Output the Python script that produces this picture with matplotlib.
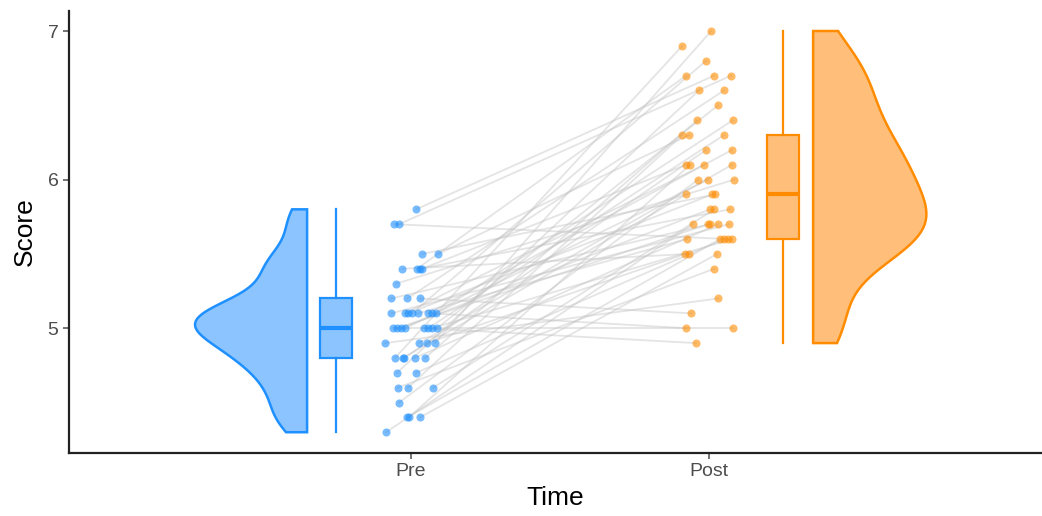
import numpy as np
import matplotlib.pyplot as plt

# paired scores, one row per subject (Pre -> Post)
pre_score = [4.3, 4.4, 4.4, 4.4, 4.5, 4.6, 4.6, 4.6, 4.7, 4.7,
             4.8, 4.8, 4.8, 4.8, 4.8, 4.9, 4.9, 4.9, 4.9, 5.0,
             5.0, 5.0, 5.0, 5.0, 5.0, 5.0, 5.0, 5.1, 5.1, 5.1,
             5.1, 5.1, 5.1, 5.1, 5.1, 5.2, 5.2, 5.2, 5.3, 5.4,
             5.4, 5.4, 5.4, 5.5, 5.5, 5.7, 5.7, 5.8]
post_score = [5.7, 5.6, 6.1, 5.5, 6.0, 5.4, 6.3, 5.8, 6.6, 5.6,
              6.9, 5.9, 6.2, 5.7, 6.4, 5.2, 6.1, 5.5, 7.0, 5.0,
              5.7, 5.8, 6.0, 4.9, 6.3, 5.6, 6.5, 5.7, 6.1, 5.9,
              6.8, 5.6, 6.2, 5.0, 6.4, 5.7, 6.6, 5.1, 6.0, 5.5,
              6.7, 5.8, 6.1, 5.9, 6.3, 5.6, 6.7, 6.7]
# horizontal jitter of each point
pre_jitter = [-0.084, -0.013, -0.007, 0.03, -0.04, -0.044, -0.01, 0.074, -0.047, 0.017,
              -0.054, -0.027, -0.023, 0.013, 0.047, -0.087, 0.027, 0.054, 0.08, -0.06,
              -0.047, -0.034, -0.02, 0.044, 0.057, 0.07, 0.087, -0.067, -0.02, -0.01,
              0.003, 0.023, 0.057, 0.07, 0.084, -0.067, -0.013, 0.03, -0.05, -0.03,
              0.02, 0.03, 0.037, 0.037, 0.091, -0.057, -0.04, 0.017]
post_jitter = [-0.054, 0.037, -0.064, 0.027, -0.037, 0.017, -0.09, 0.017, -0.034, 0.05,
               -0.09, -0.077, -0.01, 0.03, -0.04, 0.03, 0.077, -0.08, 0.007, 0.08,
               -0.003, 0.003, -0.003, -0.044, 0.05, 0.077, 0.03, 0.067, -0.017, 0.01,
               -0.01, -0.074, 0.077, -0.077, 0.08, 0.003, 0.05, -0.06, 0.084, -0.067,
               -0.077, 0.07, -0.077, 0.02, -0.067, 0.064, 0.074, 0.017]

groups = ['Pre', 'Post']
line_cols = ['#1E90FF', '#FF8C00']
fill_cols = ['#8CC4FF', '#FFBF7A']

plt.rcParams['font.family'] = ['Liberation Sans', 'DejaVu Sans']

fig = plt.figure(figsize=(10.42, 5.16), dpi=100)
ax = fig.add_axes([0.0662, 0.122, 0.9338, 0.8568])

pre = np.array(pre_score)
post = np.array(post_score)
xpre = 1 + np.array(pre_jitter)
xpost = 2 + np.array(post_jitter)

# connecting lines
for i in range(len(pre)):
    ax.plot([xpre[i], xpost[i]], [pre[i], post[i]], color='#c4c4c4', alpha=0.45, lw=1.3, zorder=1)

ax.scatter(xpre, pre, s=34, color=line_cols[0], alpha=0.6, lw=0, zorder=3)
ax.scatter(xpost, post, s=34, color=line_cols[1], alpha=0.6, lw=0, zorder=3)


def kde(vals):
    vals = np.asarray(vals)
    q1, q3 = np.percentile(vals, [25, 75])
    bw = 0.9 * min(vals.std(ddof=1), (q3 - q1) / 1.34) * len(vals) ** -0.2
    grid = np.linspace(vals.min(), vals.max(), 512)
    d = np.exp(-0.5 * ((grid[:, None] - vals[None, :]) / bw) ** 2).sum(axis=1)
    return grid, d / d.max()


# half violins
for vals, flat, sign, width, lc, fc in [(pre, 0.651, -1, 0.376, line_cols[0], fill_cols[0]),
                                        (post, 2.349, 1, 0.38, line_cols[1], fill_cols[1])]:
    grid, d = kde(vals)
    xs = np.concatenate([flat + sign * d * width, [flat, flat]])
    ys = np.concatenate([grid, [grid[-1], grid[0]]])
    ax.fill(xs, ys, facecolor=fc, edgecolor=lc, lw=1.8, zorder=2)

# boxplots
for vals, pos, lc, fc in [(pre, 0.748, line_cols[0], fill_cols[0]),
                          (post, 2.248, line_cols[1], fill_cols[1])]:
    bp = ax.boxplot(vals, positions=[pos], widths=0.105, patch_artist=True,
                    showfliers=False, showcaps=False, whis=1.5, manage_ticks=False)
    for b in bp['boxes']:
        b.set_facecolor(fc)
        b.set_edgecolor(lc)
        b.set_linewidth(1.6)
    for w in bp['whiskers']:
        w.set_color(lc)
        w.set_linewidth(1.6)
    for m in bp['medians']:
        m.set_color(lc)
        m.set_linewidth(3)

ax.set_xlim(-0.148, 3.117)
ax.set_ylim(4.16, 7.135)
ax.set_xticks([1, 2])
ax.set_xticklabels(groups)
ax.set_yticks([5, 6, 7])
ax.tick_params(labelsize=14, colors='#4d4d4d', length=4, width=1.1)
for s in ['top', 'right']:
    ax.spines[s].set_visible(False)
for s in ['left', 'bottom']:
    ax.spines[s].set_linewidth(1.6)
    ax.spines[s].set_color('#222222')
ax.set_xlabel('Time', fontsize=19, labelpad=4)
ax.set_ylabel('Score', fontsize=19, labelpad=8)

fig.savefig('out.png', dpi=100)
